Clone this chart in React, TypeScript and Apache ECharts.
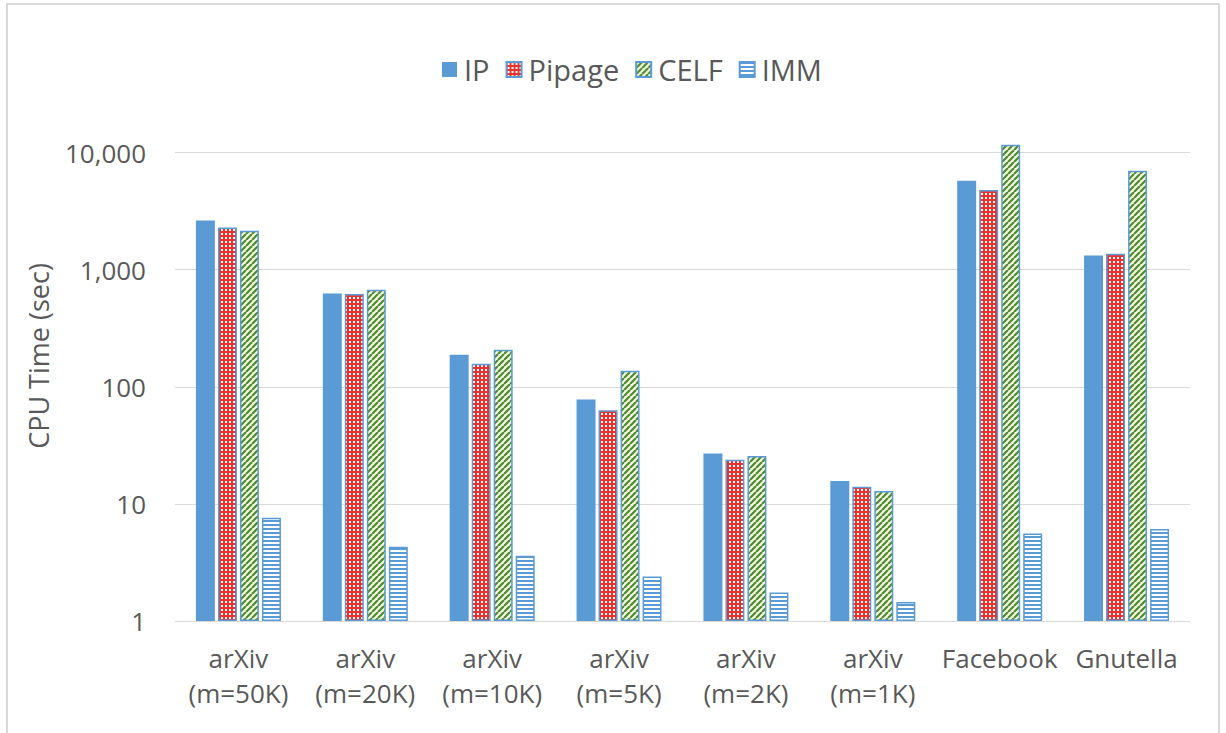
import React, { useEffect, useRef } from "react";
import * as echarts from "echarts";

const categories = [
  "arXiv\n(m=50K)",
  "arXiv\n(m=20K)",
  "arXiv\n(m=10K)",
  "arXiv\n(m=5K)",
  "arXiv\n(m=2K)",
  "arXiv\n(m=1K)",
  "Facebook",
  "Gnutella",
];
const ipValues = [2630, 625, 188, 78, 27, 15.7, 5760, 1320];
const pipageValues = [2290, 620, 157, 63, 23.8, 14, 4800, 1370];
const celfValues = [2150, 675, 207, 137, 25.7, 12.9, 11700, 7000];
const immValues = [7.6, 4.3, 3.6, 2.4, 1.75, 1.45, 5.6, 6.1];
const yTitle = "CPU Time (sec)";

const BLUE = "#5B9BD5";
const TEXT = "#595959";
const FONT = "'Open Sans', 'Noto Sans', sans-serif";

function makeCanvas(size: number, draw: (ctx: CanvasRenderingContext2D) => void) {
  const c = document.createElement("canvas");
  c.width = size;
  c.height = size;
  const ctx = c.getContext("2d")!;
  draw(ctx);
  return c;
}

export default function App() {
  const ref = useRef<HTMLDivElement>(null);
  useEffect(() => {
    document.body.style.margin = "0";
    if (!ref.current) return;
    const chart = echarts.init(ref.current, null, { renderer: "svg" });

    const pipagePat = makeCanvas(4, (ctx) => {
      ctx.fillStyle = "#E8322E";
      ctx.fillRect(0, 0, 4, 4);
      ctx.fillStyle = "#FFFFFF";
      ctx.fillRect(1, 1, 2, 2);
    });
    const celfPat = makeCanvas(6, (ctx) => {
      ctx.fillStyle = "#F4F8E0";
      ctx.fillRect(0, 0, 6, 6);
      ctx.strokeStyle = "#4E8A30";
      ctx.lineWidth = 2.2;
      ctx.beginPath();
      for (let k = -6; k <= 12; k += 6) {
        ctx.moveTo(k, 6);
        ctx.lineTo(k + 6, 0);
      }
      ctx.stroke();
    });
    const immPat = makeCanvas(4, (ctx) => {
      ctx.fillStyle = "#FFFFFF";
      ctx.fillRect(0, 0, 4, 4);
      ctx.fillStyle = BLUE;
      ctx.fillRect(0, 0, 4, 2);
    });

    const patStyle = (img: HTMLCanvasElement) => ({
      color: { image: img, repeat: "repeat" } as any,
      borderColor: BLUE,
      borderWidth: 1.5,
    });

    chart.setOption({
      animation: false,
      backgroundColor: "#FFFFFF",
      graphic: [
        {
          type: "rect",
          shape: { x: 7, y: 4, width: 1212, height: 760 },
          style: { fill: "none", stroke: "#D9D9D9", lineWidth: 2 },
          silent: true,
        },
        {
          type: "text",
          x: 38,
          y: 356,
          rotation: Math.PI / 2,
          style: {
            text: yTitle,
            fontSize: 27,
            fill: TEXT,
            fontFamily: FONT,
            align: "center",
            verticalAlign: "middle",
          },
          silent: true,
        },
      ],
      legend: {
        top: 50,
        left: 437,
        icon: "rect",
        itemWidth: 15,
        itemHeight: 15,
        itemGap: 16,
        textStyle: { fontSize: 29, color: TEXT, fontFamily: FONT, padding: [0, 0, 0, 2] },
        data: ["IP", "Pipage", "CELF", "IMM"],
      },
      grid: { left: 175, right: 36, top: 132, bottom: 112, containLabel: false },
      xAxis: {
        type: "category",
        data: categories,
        axisLine: { lineStyle: { color: "#D9D9D9", width: 1 } },
        axisTick: { show: false },
        axisLabel: {
          fontSize: 26,
          lineHeight: 35,
          color: TEXT,
          fontFamily: FONT,
          margin: 19,
          interval: 0,
        },
      },
      yAxis: {
        type: "log",
        logBase: 10,
        min: 1,
        max: 15000,
        axisLine: { show: false },
        axisTick: { show: false },
        splitLine: { show: true, showMaxLine: false, lineStyle: { color: "#D9D9D9", width: 1 } },
        axisLabel: {
          fontSize: 26,
          color: TEXT,
          fontFamily: FONT,
          margin: 29,
          showMaxLabel: false,
          formatter: (v: number) => Math.round(v).toLocaleString("en-US"),
        },
      },
      series: [
        {
          name: "IP",
          type: "bar",
          data: ipValues,
          barGap: "16%",
          barCategoryGap: "33%",
          itemStyle: { color: BLUE },
        },
        {
          name: "Pipage",
          type: "bar",
          data: pipageValues,
          barGap: "16%",
          barCategoryGap: "33%",
          itemStyle: patStyle(pipagePat),
        },
        {
          name: "CELF",
          type: "bar",
          data: celfValues,
          barGap: "16%",
          barCategoryGap: "33%",
          itemStyle: patStyle(celfPat),
        },
        {
          name: "IMM",
          type: "bar",
          data: immValues,
          barGap: "16%",
          barCategoryGap: "33%",
          itemStyle: patStyle(immPat),
        },
      ],
    });
    return () => chart.dispose();
  }, []);
  return <div ref={ref} style={{ width: 1226, height: 733 }} />;
}
